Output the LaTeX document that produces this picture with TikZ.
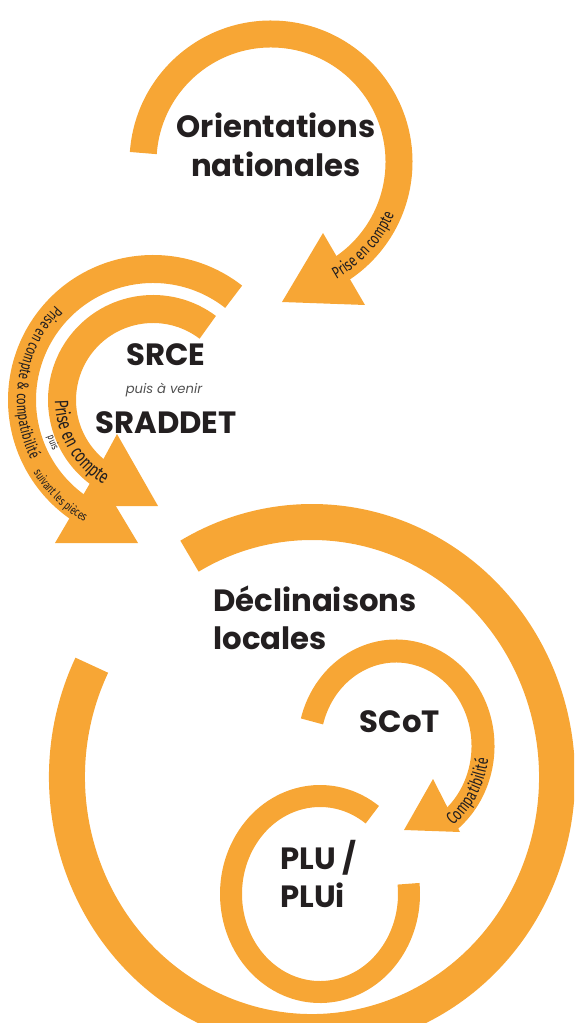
\documentclass[tikz,border=0pt]{standalone}
\usepackage{fontspec}
\setmainfont{Poppins}
\newfontfamily\lblfont[FakeStretch=0.72]{Fira Sans}
\usepackage{tikz}
\definecolor{clrArc} {RGB}{247,166,53}
\definecolor{clrText}{RGB}{35,31,32}
\definecolor{clrSub} {RGB}{80,80,80}
\usetikzlibrary{calc,decorations.text}
\newcommand\arcfont[1]{\lblfont\fontsize{#1}{#1}\selectfont\color{clrText}}

\begin{document}
\begin{tikzpicture}[
  x=0.02cm, y=0.02cm,                        % 1 unit = 1 px of the sketch
  %--- styles --------------------------------------------------------
  band/.style    = {draw=clrArc, line width=#1},
  head/.style    = {fill=clrArc},
  title/.style   = {text=clrText, inner sep=0pt,
                    font=\fontsize{17.5}{22}\selectfont\bfseries},
  sub/.style     = {text=clrSub, inner sep=0pt,
                    font=\fontsize{7.5}{9}\selectfont\itshape},
  arctext/.style = {decorate, decoration={text along path,
                    text align=center, text={#1}}},
]
\useasboundingbox (0,0) rectangle (574,-1023);
\clip (0,0) rectangle (574,-1023);

% ---- centres ------------------------------------------------------
\coordinate (cOrient) at (271,-162);
\coordinate (cSrce)   at (153,-400);
\coordinate (cDecl)   at (312,-777);
\coordinate (cScot)   at (396,-746);
\coordinate (cPlu)    at (320,-894);

% ---- Orientations nationales --------------------------------------
\draw[band=0.54cm] ([shift={(176:128)}]cOrient)
    arc[start angle=176, end angle=-58, radius=128];
\fill[head] (323,-233) -- (282,-302) -- (365,-305) -- cycle;

% ---- SRCE / SRADDET -----------------------------------------------
\draw[band=0.56cm] ([shift={(52:131)}]cSrce)
    arc[start angle=52, end angle=245, radius=131];
\fill[head] (96,-473) -- (55,-543) -- (138,-543) -- cycle;
\draw[band=0.56cm] ([shift={(53:91)}]cSrce)
    arc[start angle=53, end angle=240, radius=91];
\fill[head] (117,-434) -- (78,-506) -- (158,-506) -- cycle;

% ---- Declinaisons locales -----------------------------------------
\draw[band=0.72cm] ([shift={(154:245 and 255)}]cDecl)
    arc[start angle=154, end angle=480, x radius=245, y radius=255];

% ---- SCoT ---------------------------------------------------------
\draw[band=0.46cm] ([shift={(165:87 and 95)}]cScot)
    arc[start angle=165, end angle=-52, x radius=87, y radius=95];
\fill[head] (433,-779) -- (404,-830) -- (460,-832) -- cycle;

% ---- PLU / PLUi ---------------------------------------------------
\draw[band=0.44cm] ([shift={(54:89 and 98)}]cPlu)
    arc[start angle=54, end angle=366, x radius=89, y radius=98];

% ---- Titles -------------------------------------------------------
\node[title, anchor=base] (orient) at (276,-138) {Orientations};
\node[title, anchor=base] (natio) at ([yshift=-22pt]orient.base) {nationales};
\node[title, anchor=base] (srce) at (166,-365) {SRCE};
\node[sub, anchor=base] (puis) at (164,-393) {puis à venir};
\node[title, anchor=base] (sraddet) at (166,-433) {SRADDET};
\node[title, anchor=base west] (decl) at (213,-611) {Déclinaisons};
\node[title, anchor=base west] (locales) at ([yshift=-22pt]decl.base west) {locales};
\node[title, anchor=base] (scot) at (400,-732) {SCoT};
\node[title, anchor=base west] (plu) at (280,-869) {PLU /};
\node[title, anchor=base west] (plui) at ([yshift=-22pt]plu.base west) {PLUi};

% ---- Labels along the arcs ----------------------------------------
\path[arctext={|\arcfont{9.5}|Prise en compte}] ([shift={(-75:134)}]cOrient)
    arc[start angle=-75, end angle=-9, radius=134];
\path[arctext={|\arcfont{9}|Prise en compte {\&} compatibilité}]
    ([shift={(110:136)}]cSrce) arc[start angle=110, end angle=232, radius=136];
\path[arctext={|\arcfont{7}|suivant les pièces}] ([shift={(200:140)}]cSrce)
    arc[start angle=200, end angle=252, radius=140];
\path[arctext={|\arcfont{6}|puis}] ([shift={(193:112)}]cSrce)
    arc[start angle=193, end angle=213, radius=112];
\path[arctext={|\arcfont{11}|Prise en compte}] ([shift={(170:98)}]cSrce)
    arc[start angle=170, end angle=250, radius=98];
\path[arctext={|\arcfont{10}|Compatibilité}] ([shift={(-60:93 and 101)}]cScot)
    arc[start angle=-60, end angle=0, x radius=93, y radius=101];

\end{tikzpicture}
\end{document}
